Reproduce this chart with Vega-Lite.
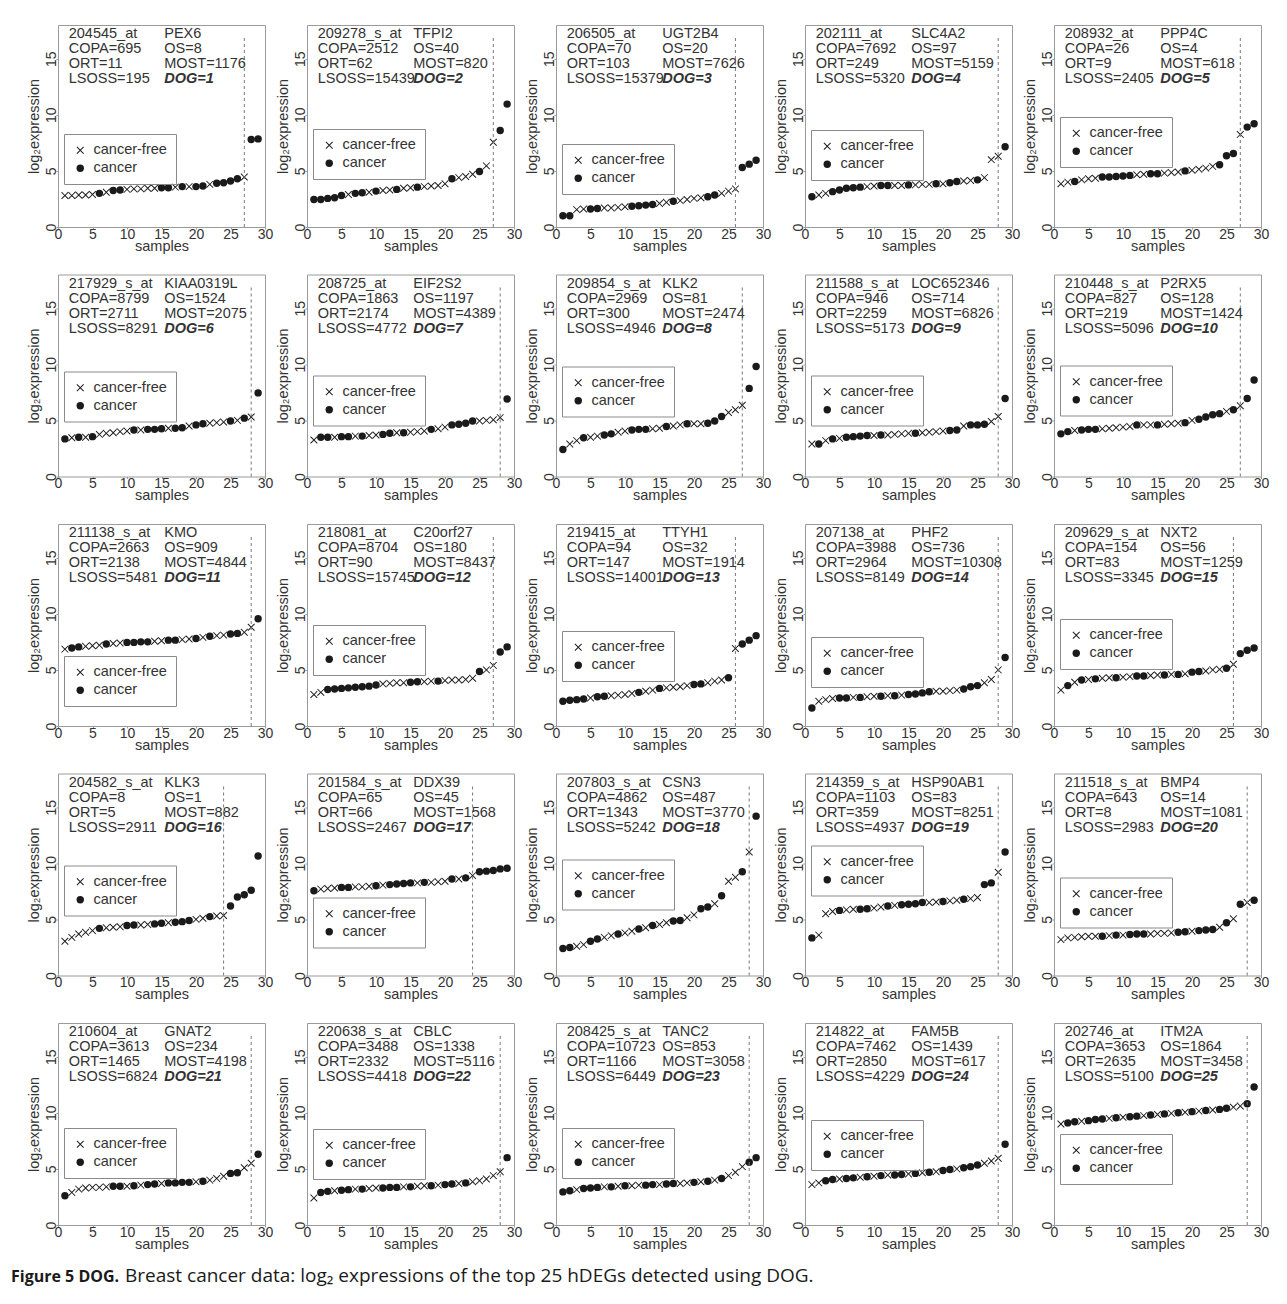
{
"$schema": "https://vega.github.io/schema/vega-lite/v6.json",
"background": "white",
"padding": {"left": 10, "top": 24, "right": 10, "bottom": 8},
"columns": 5,
"spacing": {"row": 47.5, "column": 42},
"bounds": "flush",
"resolve": {"legend": {"shape": "independent"}},
"datasets": {
"info": [
{"g":1,"cut":27,"left":["204545_at","COPA=695","ORT=11","LSOSS=195"],"right":["PEX6","OS=8","MOST=1176"],"dog":"DOG=1"},
{"g":2,"cut":27,"left":["209278_s_at","COPA=2512","ORT=62","LSOSS=15439"],"right":["TFPI2","OS=40","MOST=820"],"dog":"DOG=2"},
{"g":3,"cut":26,"left":["206505_at","COPA=70","ORT=103","LSOSS=15379"],"right":["UGT2B4","OS=20","MOST=7626"],"dog":"DOG=3"},
{"g":4,"cut":28,"left":["202111_at","COPA=7692","ORT=249","LSOSS=5320"],"right":["SLC4A2","OS=97","MOST=5159"],"dog":"DOG=4"},
{"g":5,"cut":27,"left":["208932_at","COPA=26","ORT=9","LSOSS=2405"],"right":["PPP4C","OS=4","MOST=618"],"dog":"DOG=5"},
{"g":6,"cut":28,"left":["217929_s_at","COPA=8799","ORT=2711","LSOSS=8291"],"right":["KIAA0319L","OS=1524","MOST=2075"],"dog":"DOG=6"},
{"g":7,"cut":28,"left":["208725_at","COPA=1863","ORT=2174","LSOSS=4772"],"right":["EIF2S2","OS=1197","MOST=4389"],"dog":"DOG=7"},
{"g":8,"cut":27,"left":["209854_s_at","COPA=2969","ORT=300","LSOSS=4946"],"right":["KLK2","OS=81","MOST=2474"],"dog":"DOG=8"},
{"g":9,"cut":28,"left":["211588_s_at","COPA=946","ORT=2259","LSOSS=5173"],"right":["LOC652346","OS=714","MOST=6826"],"dog":"DOG=9"},
{"g":10,"cut":27,"left":["210448_s_at","COPA=827","ORT=219","LSOSS=5096"],"right":["P2RX5","OS=128","MOST=1424"],"dog":"DOG=10"},
{"g":11,"cut":28,"left":["211138_s_at","COPA=2663","ORT=2138","LSOSS=5481"],"right":["KMO","OS=909","MOST=4844"],"dog":"DOG=11"},
{"g":12,"cut":27,"left":["218081_at","COPA=8704","ORT=90","LSOSS=15745"],"right":["C20orf27","OS=180","MOST=8437"],"dog":"DOG=12"},
{"g":13,"cut":26,"left":["219415_at","COPA=94","ORT=147","LSOSS=14001"],"right":["TTYH1","OS=32","MOST=1914"],"dog":"DOG=13"},
{"g":14,"cut":28,"left":["207138_at","COPA=3988","ORT=2964","LSOSS=8149"],"right":["PHF2","OS=736","MOST=10308"],"dog":"DOG=14"},
{"g":15,"cut":26,"left":["209629_s_at","COPA=154","ORT=83","LSOSS=3345"],"right":["NXT2","OS=56","MOST=1259"],"dog":"DOG=15"},
{"g":16,"cut":24,"left":["204582_s_at","COPA=8","ORT=5","LSOSS=2911"],"right":["KLK3","OS=1","MOST=882"],"dog":"DOG=16"},
{"g":17,"cut":24,"left":["201584_s_at","COPA=65","ORT=66","LSOSS=2467"],"right":["DDX39","OS=45","MOST=1568"],"dog":"DOG=17"},
{"g":18,"cut":28,"left":["207803_s_at","COPA=4862","ORT=1343","LSOSS=5242"],"right":["CSN3","OS=487","MOST=3770"],"dog":"DOG=18"},
{"g":19,"cut":28,"left":["214359_s_at","COPA=1103","ORT=359","LSOSS=4937"],"right":["HSP90AB1","OS=83","MOST=8251"],"dog":"DOG=19"},
{"g":20,"cut":28,"left":["211518_s_at","COPA=643","ORT=8","LSOSS=2983"],"right":["BMP4","OS=14","MOST=1081"],"dog":"DOG=20"},
{"g":21,"cut":28,"left":["210604_at","COPA=3613","ORT=1465","LSOSS=6824"],"right":["GNAT2","OS=234","MOST=4198"],"dog":"DOG=21"},
{"g":22,"cut":28,"left":["220638_s_at","COPA=3488","ORT=2332","LSOSS=4418"],"right":["CBLC","OS=1338","MOST=5116"],"dog":"DOG=22"},
{"g":23,"cut":28,"left":["208425_s_at","COPA=10723","ORT=1166","LSOSS=6449"],"right":["TANC2","OS=853","MOST=3058"],"dog":"DOG=23"},
{"g":24,"cut":28,"left":["214822_at","COPA=7462","ORT=2850","LSOSS=4229"],"right":["FAM5B","OS=1439","MOST=617"],"dog":"DOG=24"},
{"g":25,"cut":28,"left":["202746_at","COPA=3653","ORT=2635","LSOSS=5100"],"right":["ITM2A","OS=1864","MOST=3458"],"dog":"DOG=25"}
],
"pts": [
{"g":1,"i":1,"v":2.8,"s":"cancer-free"},{"g":1,"i":2,"v":2.8,"s":"cancer-free"},{"g":1,"i":3,"v":2.85,"s":"cancer-free"},{"g":1,"i":4,"v":2.85,"s":"cancer-free"},{"g":1,"i":5,"v":2.9,"s":"cancer-free"},{"g":1,"i":6,"v":3.0,"s":"cancer"},{"g":1,"i":7,"v":3.1,"s":"cancer-free"},{"g":1,"i":8,"v":3.25,"s":"cancer"},{"g":1,"i":9,"v":3.3,"s":"cancer"},{"g":1,"i":10,"v":3.35,"s":"cancer-free"},{"g":1,"i":11,"v":3.4,"s":"cancer-free"},{"g":1,"i":12,"v":3.4,"s":"cancer-free"},{"g":1,"i":13,"v":3.45,"s":"cancer-free"},{"g":1,"i":14,"v":3.45,"s":"cancer-free"},{"g":1,"i":15,"v":3.5,"s":"cancer"},{"g":1,"i":16,"v":3.5,"s":"cancer"},{"g":1,"i":17,"v":3.55,"s":"cancer-free"},{"g":1,"i":18,"v":3.6,"s":"cancer"},{"g":1,"i":19,"v":3.6,"s":"cancer-free"},{"g":1,"i":20,"v":3.6,"s":"cancer"},{"g":1,"i":21,"v":3.65,"s":"cancer"},{"g":1,"i":22,"v":3.8,"s":"cancer-free"},{"g":1,"i":23,"v":3.9,"s":"cancer"},{"g":1,"i":24,"v":3.95,"s":"cancer"},{"g":1,"i":25,"v":4.1,"s":"cancer"},{"g":1,"i":26,"v":4.3,"s":"cancer"},{"g":1,"i":27,"v":4.45,"s":"cancer-free"},{"g":1,"i":28,"v":7.8,"s":"cancer"},{"g":1,"i":29,"v":7.85,"s":"cancer"},
{"g":2,"i":1,"v":2.45,"s":"cancer"},{"g":2,"i":2,"v":2.45,"s":"cancer"},{"g":2,"i":3,"v":2.55,"s":"cancer"},{"g":2,"i":4,"v":2.6,"s":"cancer"},{"g":2,"i":5,"v":2.8,"s":"cancer"},{"g":2,"i":6,"v":2.9,"s":"cancer-free"},{"g":2,"i":7,"v":3.0,"s":"cancer"},{"g":2,"i":8,"v":3.05,"s":"cancer"},{"g":2,"i":9,"v":3.1,"s":"cancer-free"},{"g":2,"i":10,"v":3.2,"s":"cancer"},{"g":2,"i":11,"v":3.25,"s":"cancer-free"},{"g":2,"i":12,"v":3.3,"s":"cancer-free"},{"g":2,"i":13,"v":3.35,"s":"cancer"},{"g":2,"i":14,"v":3.45,"s":"cancer-free"},{"g":2,"i":15,"v":3.5,"s":"cancer-free"},{"g":2,"i":16,"v":3.55,"s":"cancer"},{"g":2,"i":17,"v":3.6,"s":"cancer-free"},{"g":2,"i":18,"v":3.65,"s":"cancer-free"},{"g":2,"i":19,"v":3.7,"s":"cancer-free"},{"g":2,"i":20,"v":3.85,"s":"cancer-free"},{"g":2,"i":21,"v":4.3,"s":"cancer"},{"g":2,"i":22,"v":4.4,"s":"cancer-free"},{"g":2,"i":23,"v":4.5,"s":"cancer-free"},{"g":2,"i":24,"v":4.7,"s":"cancer-free"},{"g":2,"i":25,"v":4.95,"s":"cancer"},{"g":2,"i":26,"v":5.45,"s":"cancer-free"},{"g":2,"i":27,"v":7.55,"s":"cancer-free"},{"g":2,"i":28,"v":8.6,"s":"cancer"},{"g":2,"i":29,"v":10.95,"s":"cancer"},
{"g":3,"i":1,"v":1.0,"s":"cancer"},{"g":3,"i":2,"v":1.0,"s":"cancer"},{"g":3,"i":3,"v":1.55,"s":"cancer-free"},{"g":3,"i":4,"v":1.6,"s":"cancer-free"},{"g":3,"i":5,"v":1.6,"s":"cancer"},{"g":3,"i":6,"v":1.65,"s":"cancer"},{"g":3,"i":7,"v":1.7,"s":"cancer-free"},{"g":3,"i":8,"v":1.7,"s":"cancer-free"},{"g":3,"i":9,"v":1.75,"s":"cancer-free"},{"g":3,"i":10,"v":1.8,"s":"cancer-free"},{"g":3,"i":11,"v":1.85,"s":"cancer"},{"g":3,"i":12,"v":1.9,"s":"cancer"},{"g":3,"i":13,"v":1.95,"s":"cancer"},{"g":3,"i":14,"v":2.0,"s":"cancer"},{"g":3,"i":15,"v":2.1,"s":"cancer-free"},{"g":3,"i":16,"v":2.2,"s":"cancer-free"},{"g":3,"i":17,"v":2.3,"s":"cancer"},{"g":3,"i":18,"v":2.35,"s":"cancer-free"},{"g":3,"i":19,"v":2.45,"s":"cancer-free"},{"g":3,"i":20,"v":2.55,"s":"cancer-free"},{"g":3,"i":21,"v":2.6,"s":"cancer-free"},{"g":3,"i":22,"v":2.7,"s":"cancer"},{"g":3,"i":23,"v":2.85,"s":"cancer"},{"g":3,"i":24,"v":3.0,"s":"cancer-free"},{"g":3,"i":25,"v":3.2,"s":"cancer-free"},{"g":3,"i":26,"v":3.4,"s":"cancer-free"},{"g":3,"i":27,"v":5.3,"s":"cancer"},{"g":3,"i":28,"v":5.6,"s":"cancer"},{"g":3,"i":29,"v":5.95,"s":"cancer"},
{"g":4,"i":1,"v":2.7,"s":"cancer"},{"g":4,"i":2,"v":2.85,"s":"cancer-free"},{"g":4,"i":3,"v":3.0,"s":"cancer-free"},{"g":4,"i":4,"v":3.15,"s":"cancer"},{"g":4,"i":5,"v":3.3,"s":"cancer"},{"g":4,"i":6,"v":3.45,"s":"cancer"},{"g":4,"i":7,"v":3.5,"s":"cancer"},{"g":4,"i":8,"v":3.55,"s":"cancer"},{"g":4,"i":9,"v":3.6,"s":"cancer-free"},{"g":4,"i":10,"v":3.65,"s":"cancer-free"},{"g":4,"i":11,"v":3.7,"s":"cancer"},{"g":4,"i":12,"v":3.7,"s":"cancer"},{"g":4,"i":13,"v":3.7,"s":"cancer-free"},{"g":4,"i":14,"v":3.7,"s":"cancer-free"},{"g":4,"i":15,"v":3.75,"s":"cancer"},{"g":4,"i":16,"v":3.75,"s":"cancer-free"},{"g":4,"i":17,"v":3.8,"s":"cancer-free"},{"g":4,"i":18,"v":3.8,"s":"cancer-free"},{"g":4,"i":19,"v":3.85,"s":"cancer"},{"g":4,"i":20,"v":3.85,"s":"cancer-free"},{"g":4,"i":21,"v":3.95,"s":"cancer"},{"g":4,"i":22,"v":4.05,"s":"cancer"},{"g":4,"i":23,"v":4.1,"s":"cancer-free"},{"g":4,"i":24,"v":4.15,"s":"cancer-free"},{"g":4,"i":25,"v":4.2,"s":"cancer"},{"g":4,"i":26,"v":4.4,"s":"cancer-free"},{"g":4,"i":27,"v":6.0,"s":"cancer-free"},{"g":4,"i":28,"v":6.3,"s":"cancer-free"},{"g":4,"i":29,"v":7.15,"s":"cancer"},
{"g":5,"i":1,"v":3.85,"s":"cancer-free"},{"g":5,"i":2,"v":4.0,"s":"cancer-free"},{"g":5,"i":3,"v":4.05,"s":"cancer"},{"g":5,"i":4,"v":4.2,"s":"cancer-free"},{"g":5,"i":5,"v":4.3,"s":"cancer-free"},{"g":5,"i":6,"v":4.35,"s":"cancer-free"},{"g":5,"i":7,"v":4.45,"s":"cancer"},{"g":5,"i":8,"v":4.45,"s":"cancer"},{"g":5,"i":9,"v":4.5,"s":"cancer"},{"g":5,"i":10,"v":4.55,"s":"cancer"},{"g":5,"i":11,"v":4.6,"s":"cancer"},{"g":5,"i":12,"v":4.65,"s":"cancer-free"},{"g":5,"i":13,"v":4.7,"s":"cancer-free"},{"g":5,"i":14,"v":4.75,"s":"cancer"},{"g":5,"i":15,"v":4.75,"s":"cancer"},{"g":5,"i":16,"v":4.8,"s":"cancer-free"},{"g":5,"i":17,"v":4.85,"s":"cancer-free"},{"g":5,"i":18,"v":4.9,"s":"cancer-free"},{"g":5,"i":19,"v":5.0,"s":"cancer"},{"g":5,"i":20,"v":5.05,"s":"cancer-free"},{"g":5,"i":21,"v":5.15,"s":"cancer-free"},{"g":5,"i":22,"v":5.25,"s":"cancer-free"},{"g":5,"i":23,"v":5.4,"s":"cancer-free"},{"g":5,"i":24,"v":5.55,"s":"cancer"},{"g":5,"i":25,"v":6.35,"s":"cancer"},{"g":5,"i":26,"v":6.55,"s":"cancer"},{"g":5,"i":27,"v":8.25,"s":"cancer-free"},{"g":5,"i":28,"v":8.9,"s":"cancer"},{"g":5,"i":29,"v":9.2,"s":"cancer"},
{"g":6,"i":1,"v":3.35,"s":"cancer"},{"g":6,"i":2,"v":3.45,"s":"cancer-free"},{"g":6,"i":3,"v":3.5,"s":"cancer"},{"g":6,"i":4,"v":3.5,"s":"cancer-free"},{"g":6,"i":5,"v":3.55,"s":"cancer"},{"g":6,"i":6,"v":3.75,"s":"cancer-free"},{"g":6,"i":7,"v":3.85,"s":"cancer-free"},{"g":6,"i":8,"v":3.9,"s":"cancer-free"},{"g":6,"i":9,"v":4.0,"s":"cancer-free"},{"g":6,"i":10,"v":4.05,"s":"cancer-free"},{"g":6,"i":11,"v":4.15,"s":"cancer"},{"g":6,"i":12,"v":4.15,"s":"cancer-free"},{"g":6,"i":13,"v":4.2,"s":"cancer"},{"g":6,"i":14,"v":4.2,"s":"cancer"},{"g":6,"i":15,"v":4.25,"s":"cancer"},{"g":6,"i":16,"v":4.3,"s":"cancer-free"},{"g":6,"i":17,"v":4.3,"s":"cancer"},{"g":6,"i":18,"v":4.35,"s":"cancer"},{"g":6,"i":19,"v":4.5,"s":"cancer-free"},{"g":6,"i":20,"v":4.6,"s":"cancer"},{"g":6,"i":21,"v":4.7,"s":"cancer"},{"g":6,"i":22,"v":4.75,"s":"cancer-free"},{"g":6,"i":23,"v":4.8,"s":"cancer-free"},{"g":6,"i":24,"v":4.85,"s":"cancer-free"},{"g":6,"i":25,"v":4.95,"s":"cancer"},{"g":6,"i":26,"v":5.0,"s":"cancer-free"},{"g":6,"i":27,"v":5.2,"s":"cancer"},{"g":6,"i":28,"v":5.3,"s":"cancer-free"},{"g":6,"i":29,"v":7.45,"s":"cancer"},
{"g":7,"i":1,"v":3.25,"s":"cancer-free"},{"g":7,"i":2,"v":3.5,"s":"cancer"},{"g":7,"i":3,"v":3.5,"s":"cancer"},{"g":7,"i":4,"v":3.5,"s":"cancer-free"},{"g":7,"i":5,"v":3.55,"s":"cancer"},{"g":7,"i":6,"v":3.55,"s":"cancer"},{"g":7,"i":7,"v":3.6,"s":"cancer-free"},{"g":7,"i":8,"v":3.6,"s":"cancer"},{"g":7,"i":9,"v":3.65,"s":"cancer-free"},{"g":7,"i":10,"v":3.7,"s":"cancer-free"},{"g":7,"i":11,"v":3.75,"s":"cancer"},{"g":7,"i":12,"v":3.85,"s":"cancer"},{"g":7,"i":13,"v":3.9,"s":"cancer-free"},{"g":7,"i":14,"v":3.9,"s":"cancer"},{"g":7,"i":15,"v":3.95,"s":"cancer-free"},{"g":7,"i":16,"v":4.0,"s":"cancer-free"},{"g":7,"i":17,"v":4.05,"s":"cancer-free"},{"g":7,"i":18,"v":4.2,"s":"cancer"},{"g":7,"i":19,"v":4.25,"s":"cancer-free"},{"g":7,"i":20,"v":4.4,"s":"cancer-free"},{"g":7,"i":21,"v":4.6,"s":"cancer"},{"g":7,"i":22,"v":4.65,"s":"cancer"},{"g":7,"i":23,"v":4.75,"s":"cancer"},{"g":7,"i":24,"v":4.95,"s":"cancer"},{"g":7,"i":25,"v":4.95,"s":"cancer-free"},{"g":7,"i":26,"v":5.0,"s":"cancer-free"},{"g":7,"i":27,"v":5.05,"s":"cancer-free"},{"g":7,"i":28,"v":5.25,"s":"cancer-free"},{"g":7,"i":29,"v":6.9,"s":"cancer"},
{"g":8,"i":1,"v":2.4,"s":"cancer"},{"g":8,"i":2,"v":2.9,"s":"cancer-free"},{"g":8,"i":3,"v":3.2,"s":"cancer-free"},{"g":8,"i":4,"v":3.45,"s":"cancer"},{"g":8,"i":5,"v":3.5,"s":"cancer-free"},{"g":8,"i":6,"v":3.6,"s":"cancer-free"},{"g":8,"i":7,"v":3.7,"s":"cancer"},{"g":8,"i":8,"v":3.8,"s":"cancer"},{"g":8,"i":9,"v":3.95,"s":"cancer-free"},{"g":8,"i":10,"v":4.05,"s":"cancer-free"},{"g":8,"i":11,"v":4.15,"s":"cancer"},{"g":8,"i":12,"v":4.2,"s":"cancer"},{"g":8,"i":13,"v":4.2,"s":"cancer"},{"g":8,"i":14,"v":4.25,"s":"cancer-free"},{"g":8,"i":15,"v":4.3,"s":"cancer-free"},{"g":8,"i":16,"v":4.45,"s":"cancer"},{"g":8,"i":17,"v":4.5,"s":"cancer-free"},{"g":8,"i":18,"v":4.6,"s":"cancer-free"},{"g":8,"i":19,"v":4.7,"s":"cancer"},{"g":8,"i":20,"v":4.7,"s":"cancer-free"},{"g":8,"i":21,"v":4.7,"s":"cancer-free"},{"g":8,"i":22,"v":4.75,"s":"cancer"},{"g":8,"i":23,"v":4.95,"s":"cancer"},{"g":8,"i":24,"v":5.35,"s":"cancer"},{"g":8,"i":25,"v":5.7,"s":"cancer-free"},{"g":8,"i":26,"v":5.95,"s":"cancer-free"},{"g":8,"i":27,"v":6.35,"s":"cancer-free"},{"g":8,"i":28,"v":7.85,"s":"cancer"},{"g":8,"i":29,"v":9.8,"s":"cancer"},
{"g":9,"i":1,"v":2.9,"s":"cancer-free"},{"g":9,"i":2,"v":2.9,"s":"cancer"},{"g":9,"i":3,"v":3.2,"s":"cancer-free"},{"g":9,"i":4,"v":3.35,"s":"cancer"},{"g":9,"i":5,"v":3.4,"s":"cancer-free"},{"g":9,"i":6,"v":3.5,"s":"cancer"},{"g":9,"i":7,"v":3.55,"s":"cancer"},{"g":9,"i":8,"v":3.6,"s":"cancer"},{"g":9,"i":9,"v":3.65,"s":"cancer"},{"g":9,"i":10,"v":3.65,"s":"cancer-free"},{"g":9,"i":11,"v":3.7,"s":"cancer"},{"g":9,"i":12,"v":3.7,"s":"cancer-free"},{"g":9,"i":13,"v":3.75,"s":"cancer-free"},{"g":9,"i":14,"v":3.8,"s":"cancer-free"},{"g":9,"i":15,"v":3.85,"s":"cancer-free"},{"g":9,"i":16,"v":3.85,"s":"cancer"},{"g":9,"i":17,"v":3.9,"s":"cancer-free"},{"g":9,"i":18,"v":3.95,"s":"cancer-free"},{"g":9,"i":19,"v":4.0,"s":"cancer-free"},{"g":9,"i":20,"v":4.05,"s":"cancer-free"},{"g":9,"i":21,"v":4.1,"s":"cancer"},{"g":9,"i":22,"v":4.15,"s":"cancer"},{"g":9,"i":23,"v":4.5,"s":"cancer-free"},{"g":9,"i":24,"v":4.6,"s":"cancer"},{"g":9,"i":25,"v":4.6,"s":"cancer"},{"g":9,"i":26,"v":4.65,"s":"cancer"},{"g":9,"i":27,"v":4.9,"s":"cancer-free"},{"g":9,"i":28,"v":5.35,"s":"cancer-free"},{"g":9,"i":29,"v":6.95,"s":"cancer"},
{"g":10,"i":1,"v":3.8,"s":"cancer"},{"g":10,"i":2,"v":4.0,"s":"cancer"},{"g":10,"i":3,"v":4.1,"s":"cancer-free"},{"g":10,"i":4,"v":4.15,"s":"cancer"},{"g":10,"i":5,"v":4.2,"s":"cancer"},{"g":10,"i":6,"v":4.2,"s":"cancer"},{"g":10,"i":7,"v":4.25,"s":"cancer-free"},{"g":10,"i":8,"v":4.3,"s":"cancer-free"},{"g":10,"i":9,"v":4.35,"s":"cancer-free"},{"g":10,"i":10,"v":4.4,"s":"cancer-free"},{"g":10,"i":11,"v":4.45,"s":"cancer-free"},{"g":10,"i":12,"v":4.6,"s":"cancer"},{"g":10,"i":13,"v":4.6,"s":"cancer-free"},{"g":10,"i":14,"v":4.6,"s":"cancer-free"},{"g":10,"i":15,"v":4.6,"s":"cancer"},{"g":10,"i":16,"v":4.65,"s":"cancer-free"},{"g":10,"i":17,"v":4.7,"s":"cancer-free"},{"g":10,"i":18,"v":4.75,"s":"cancer-free"},{"g":10,"i":19,"v":4.8,"s":"cancer"},{"g":10,"i":20,"v":5.0,"s":"cancer-free"},{"g":10,"i":21,"v":5.1,"s":"cancer"},{"g":10,"i":22,"v":5.3,"s":"cancer"},{"g":10,"i":23,"v":5.5,"s":"cancer"},{"g":10,"i":24,"v":5.6,"s":"cancer"},{"g":10,"i":25,"v":5.8,"s":"cancer-free"},{"g":10,"i":26,"v":5.95,"s":"cancer"},{"g":10,"i":27,"v":6.3,"s":"cancer-free"},{"g":10,"i":28,"v":6.95,"s":"cancer"},{"g":10,"i":29,"v":8.6,"s":"cancer"},
{"g":11,"i":1,"v":6.85,"s":"cancer-free"},{"g":11,"i":2,"v":6.95,"s":"cancer"},{"g":11,"i":3,"v":7.05,"s":"cancer"},{"g":11,"i":4,"v":7.1,"s":"cancer-free"},{"g":11,"i":5,"v":7.15,"s":"cancer-free"},{"g":11,"i":6,"v":7.2,"s":"cancer-free"},{"g":11,"i":7,"v":7.3,"s":"cancer"},{"g":11,"i":8,"v":7.35,"s":"cancer-free"},{"g":11,"i":9,"v":7.4,"s":"cancer-free"},{"g":11,"i":10,"v":7.45,"s":"cancer"},{"g":11,"i":11,"v":7.45,"s":"cancer"},{"g":11,"i":12,"v":7.5,"s":"cancer"},{"g":11,"i":13,"v":7.5,"s":"cancer"},{"g":11,"i":14,"v":7.55,"s":"cancer-free"},{"g":11,"i":15,"v":7.6,"s":"cancer-free"},{"g":11,"i":16,"v":7.65,"s":"cancer"},{"g":11,"i":17,"v":7.65,"s":"cancer"},{"g":11,"i":18,"v":7.7,"s":"cancer-free"},{"g":11,"i":19,"v":7.75,"s":"cancer-free"},{"g":11,"i":20,"v":7.8,"s":"cancer"},{"g":11,"i":21,"v":7.9,"s":"cancer-free"},{"g":11,"i":22,"v":8.0,"s":"cancer"},{"g":11,"i":23,"v":8.05,"s":"cancer-free"},{"g":11,"i":24,"v":8.1,"s":"cancer-free"},{"g":11,"i":25,"v":8.2,"s":"cancer"},{"g":11,"i":26,"v":8.25,"s":"cancer"},{"g":11,"i":27,"v":8.35,"s":"cancer-free"},{"g":11,"i":28,"v":8.8,"s":"cancer-free"},{"g":11,"i":29,"v":9.55,"s":"cancer"},
{"g":12,"i":1,"v":2.8,"s":"cancer-free"},{"g":12,"i":2,"v":3.0,"s":"cancer-free"},{"g":12,"i":3,"v":3.25,"s":"cancer"},{"g":12,"i":4,"v":3.3,"s":"cancer"},{"g":12,"i":5,"v":3.35,"s":"cancer"},{"g":12,"i":6,"v":3.4,"s":"cancer"},{"g":12,"i":7,"v":3.45,"s":"cancer"},{"g":12,"i":8,"v":3.5,"s":"cancer"},{"g":12,"i":9,"v":3.55,"s":"cancer"},{"g":12,"i":10,"v":3.65,"s":"cancer"},{"g":12,"i":11,"v":3.75,"s":"cancer-free"},{"g":12,"i":12,"v":3.8,"s":"cancer-free"},{"g":12,"i":13,"v":3.85,"s":"cancer-free"},{"g":12,"i":14,"v":3.85,"s":"cancer-free"},{"g":12,"i":15,"v":3.9,"s":"cancer"},{"g":12,"i":16,"v":3.95,"s":"cancer"},{"g":12,"i":17,"v":3.95,"s":"cancer-free"},{"g":12,"i":18,"v":4.0,"s":"cancer-free"},{"g":12,"i":19,"v":4.0,"s":"cancer"},{"g":12,"i":20,"v":4.05,"s":"cancer-free"},{"g":12,"i":21,"v":4.1,"s":"cancer-free"},{"g":12,"i":22,"v":4.1,"s":"cancer-free"},{"g":12,"i":23,"v":4.15,"s":"cancer-free"},{"g":12,"i":24,"v":4.25,"s":"cancer-free"},{"g":12,"i":25,"v":4.85,"s":"cancer"},{"g":12,"i":26,"v":5.0,"s":"cancer-free"},{"g":12,"i":27,"v":5.4,"s":"cancer-free"},{"g":12,"i":28,"v":6.6,"s":"cancer"},{"g":12,"i":29,"v":7.05,"s":"cancer"},
{"g":13,"i":1,"v":2.2,"s":"cancer"},{"g":13,"i":2,"v":2.3,"s":"cancer"},{"g":13,"i":3,"v":2.35,"s":"cancer"},{"g":13,"i":4,"v":2.4,"s":"cancer"},{"g":13,"i":5,"v":2.5,"s":"cancer-free"},{"g":13,"i":6,"v":2.6,"s":"cancer"},{"g":13,"i":7,"v":2.65,"s":"cancer"},{"g":13,"i":8,"v":2.7,"s":"cancer-free"},{"g":13,"i":9,"v":2.75,"s":"cancer-free"},{"g":13,"i":10,"v":2.8,"s":"cancer-free"},{"g":13,"i":11,"v":2.9,"s":"cancer-free"},{"g":13,"i":12,"v":3.0,"s":"cancer"},{"g":13,"i":13,"v":3.1,"s":"cancer-free"},{"g":13,"i":14,"v":3.2,"s":"cancer-free"},{"g":13,"i":15,"v":3.35,"s":"cancer"},{"g":13,"i":16,"v":3.4,"s":"cancer-free"},{"g":13,"i":17,"v":3.45,"s":"cancer-free"},{"g":13,"i":18,"v":3.5,"s":"cancer-free"},{"g":13,"i":19,"v":3.6,"s":"cancer-free"},{"g":13,"i":20,"v":3.7,"s":"cancer"},{"g":13,"i":21,"v":3.75,"s":"cancer"},{"g":13,"i":22,"v":3.85,"s":"cancer-free"},{"g":13,"i":23,"v":4.0,"s":"cancer-free"},{"g":13,"i":24,"v":4.1,"s":"cancer-free"},{"g":13,"i":25,"v":4.3,"s":"cancer"},{"g":13,"i":26,"v":6.9,"s":"cancer-free"},{"g":13,"i":27,"v":7.3,"s":"cancer"},{"g":13,"i":28,"v":7.65,"s":"cancer"},{"g":13,"i":29,"v":8.05,"s":"cancer"},
{"g":14,"i":1,"v":1.6,"s":"cancer"},{"g":14,"i":2,"v":2.2,"s":"cancer-free"},{"g":14,"i":3,"v":2.35,"s":"cancer-free"},{"g":14,"i":4,"v":2.45,"s":"cancer-free"},{"g":14,"i":5,"v":2.5,"s":"cancer"},{"g":14,"i":6,"v":2.5,"s":"cancer"},{"g":14,"i":7,"v":2.55,"s":"cancer-free"},{"g":14,"i":8,"v":2.55,"s":"cancer"},{"g":14,"i":9,"v":2.6,"s":"cancer-free"},{"g":14,"i":10,"v":2.65,"s":"cancer-free"},{"g":14,"i":11,"v":2.65,"s":"cancer"},{"g":14,"i":12,"v":2.7,"s":"cancer-free"},{"g":14,"i":13,"v":2.7,"s":"cancer"},{"g":14,"i":14,"v":2.75,"s":"cancer-free"},{"g":14,"i":15,"v":2.8,"s":"cancer"},{"g":14,"i":16,"v":2.85,"s":"cancer"},{"g":14,"i":17,"v":2.95,"s":"cancer"},{"g":14,"i":18,"v":3.05,"s":"cancer"},{"g":14,"i":19,"v":3.1,"s":"cancer-free"},{"g":14,"i":20,"v":3.1,"s":"cancer-free"},{"g":14,"i":21,"v":3.15,"s":"cancer-free"},{"g":14,"i":22,"v":3.2,"s":"cancer-free"},{"g":14,"i":23,"v":3.3,"s":"cancer"},{"g":14,"i":24,"v":3.5,"s":"cancer"},{"g":14,"i":25,"v":3.6,"s":"cancer"},{"g":14,"i":26,"v":3.85,"s":"cancer-free"},{"g":14,"i":27,"v":4.15,"s":"cancer-free"},{"g":14,"i":28,"v":5.0,"s":"cancer-free"},{"g":14,"i":29,"v":6.1,"s":"cancer"},
{"g":15,"i":1,"v":3.2,"s":"cancer-free"},{"g":15,"i":2,"v":3.6,"s":"cancer"},{"g":15,"i":3,"v":3.9,"s":"cancer-free"},{"g":15,"i":4,"v":4.1,"s":"cancer"},{"g":15,"i":5,"v":4.15,"s":"cancer-free"},{"g":15,"i":6,"v":4.2,"s":"cancer"},{"g":15,"i":7,"v":4.25,"s":"cancer-free"},{"g":15,"i":8,"v":4.3,"s":"cancer-free"},{"g":15,"i":9,"v":4.3,"s":"cancer"},{"g":15,"i":10,"v":4.35,"s":"cancer-free"},{"g":15,"i":11,"v":4.4,"s":"cancer-free"},{"g":15,"i":12,"v":4.45,"s":"cancer"},{"g":15,"i":13,"v":4.45,"s":"cancer"},{"g":15,"i":14,"v":4.5,"s":"cancer-free"},{"g":15,"i":15,"v":4.55,"s":"cancer-free"},{"g":15,"i":16,"v":4.55,"s":"cancer"},{"g":15,"i":17,"v":4.6,"s":"cancer-free"},{"g":15,"i":18,"v":4.6,"s":"cancer"},{"g":15,"i":19,"v":4.65,"s":"cancer-free"},{"g":15,"i":20,"v":4.8,"s":"cancer"},{"g":15,"i":21,"v":4.85,"s":"cancer"},{"g":15,"i":22,"v":4.9,"s":"cancer-free"},{"g":15,"i":23,"v":5.0,"s":"cancer-free"},{"g":15,"i":24,"v":5.05,"s":"cancer-free"},{"g":15,"i":25,"v":5.15,"s":"cancer"},{"g":15,"i":26,"v":5.5,"s":"cancer-free"},{"g":15,"i":27,"v":6.45,"s":"cancer"},{"g":15,"i":28,"v":6.75,"s":"cancer"},{"g":15,"i":29,"v":6.95,"s":"cancer"},
{"g":16,"i":1,"v":3.05,"s":"cancer-free"},{"g":16,"i":2,"v":3.4,"s":"cancer-free"},{"g":16,"i":3,"v":3.7,"s":"cancer-free"},{"g":16,"i":4,"v":3.85,"s":"cancer-free"},{"g":16,"i":5,"v":4.0,"s":"cancer-free"},{"g":16,"i":6,"v":4.2,"s":"cancer"},{"g":16,"i":7,"v":4.25,"s":"cancer-free"},{"g":16,"i":8,"v":4.3,"s":"cancer-free"},{"g":16,"i":9,"v":4.35,"s":"cancer-free"},{"g":16,"i":10,"v":4.45,"s":"cancer"},{"g":16,"i":11,"v":4.5,"s":"cancer"},{"g":16,"i":12,"v":4.5,"s":"cancer-free"},{"g":16,"i":13,"v":4.55,"s":"cancer-free"},{"g":16,"i":14,"v":4.6,"s":"cancer"},{"g":16,"i":15,"v":4.65,"s":"cancer"},{"g":16,"i":16,"v":4.7,"s":"cancer-free"},{"g":16,"i":17,"v":4.75,"s":"cancer"},{"g":16,"i":18,"v":4.8,"s":"cancer"},{"g":16,"i":19,"v":4.9,"s":"cancer"},{"g":16,"i":20,"v":5.0,"s":"cancer-free"},{"g":16,"i":21,"v":5.1,"s":"cancer-free"},{"g":16,"i":22,"v":5.25,"s":"cancer"},{"g":16,"i":23,"v":5.3,"s":"cancer-free"},{"g":16,"i":24,"v":5.35,"s":"cancer-free"},{"g":16,"i":25,"v":6.2,"s":"cancer"},{"g":16,"i":26,"v":7.0,"s":"cancer"},{"g":16,"i":27,"v":7.2,"s":"cancer"},{"g":16,"i":28,"v":7.6,"s":"cancer"},{"g":16,"i":29,"v":10.65,"s":"cancer"},
{"g":17,"i":1,"v":7.55,"s":"cancer"},{"g":17,"i":2,"v":7.7,"s":"cancer-free"},{"g":17,"i":3,"v":7.75,"s":"cancer-free"},{"g":17,"i":4,"v":7.8,"s":"cancer-free"},{"g":17,"i":5,"v":7.85,"s":"cancer"},{"g":17,"i":6,"v":7.85,"s":"cancer"},{"g":17,"i":7,"v":7.9,"s":"cancer-free"},{"g":17,"i":8,"v":7.9,"s":"cancer-free"},{"g":17,"i":9,"v":7.95,"s":"cancer-free"},{"g":17,"i":10,"v":8.0,"s":"cancer"},{"g":17,"i":11,"v":8.05,"s":"cancer-free"},{"g":17,"i":12,"v":8.1,"s":"cancer"},{"g":17,"i":13,"v":8.15,"s":"cancer"},{"g":17,"i":14,"v":8.2,"s":"cancer"},{"g":17,"i":15,"v":8.25,"s":"cancer"},{"g":17,"i":16,"v":8.25,"s":"cancer-free"},{"g":17,"i":17,"v":8.3,"s":"cancer"},{"g":17,"i":18,"v":8.3,"s":"cancer-free"},{"g":17,"i":19,"v":8.35,"s":"cancer-free"},{"g":17,"i":20,"v":8.4,"s":"cancer-free"},{"g":17,"i":21,"v":8.6,"s":"cancer"},{"g":17,"i":22,"v":8.6,"s":"cancer-free"},{"g":17,"i":23,"v":8.7,"s":"cancer"},{"g":17,"i":24,"v":8.9,"s":"cancer-free"},{"g":17,"i":25,"v":9.25,"s":"cancer"},{"g":17,"i":26,"v":9.3,"s":"cancer"},{"g":17,"i":27,"v":9.35,"s":"cancer"},{"g":17,"i":28,"v":9.5,"s":"cancer"},{"g":17,"i":29,"v":9.55,"s":"cancer"},
{"g":18,"i":1,"v":2.4,"s":"cancer"},{"g":18,"i":2,"v":2.5,"s":"cancer"},{"g":18,"i":3,"v":2.6,"s":"cancer-free"},{"g":18,"i":4,"v":2.75,"s":"cancer-free"},{"g":18,"i":5,"v":3.05,"s":"cancer"},{"g":18,"i":6,"v":3.25,"s":"cancer"},{"g":18,"i":7,"v":3.4,"s":"cancer-free"},{"g":18,"i":8,"v":3.55,"s":"cancer-free"},{"g":18,"i":9,"v":3.7,"s":"cancer"},{"g":18,"i":10,"v":3.8,"s":"cancer-free"},{"g":18,"i":11,"v":3.95,"s":"cancer-free"},{"g":18,"i":12,"v":4.15,"s":"cancer"},{"g":18,"i":13,"v":4.25,"s":"cancer-free"},{"g":18,"i":14,"v":4.45,"s":"cancer"},{"g":18,"i":15,"v":4.55,"s":"cancer-free"},{"g":18,"i":16,"v":4.7,"s":"cancer-free"},{"g":18,"i":17,"v":4.85,"s":"cancer"},{"g":18,"i":18,"v":4.9,"s":"cancer"},{"g":18,"i":19,"v":5.15,"s":"cancer-free"},{"g":18,"i":20,"v":5.4,"s":"cancer-free"},{"g":18,"i":21,"v":5.95,"s":"cancer"},{"g":18,"i":22,"v":6.1,"s":"cancer"},{"g":18,"i":23,"v":6.4,"s":"cancer-free"},{"g":18,"i":24,"v":7.1,"s":"cancer"},{"g":18,"i":25,"v":8.4,"s":"cancer-free"},{"g":18,"i":26,"v":8.75,"s":"cancer-free"},{"g":18,"i":27,"v":9.25,"s":"cancer"},{"g":18,"i":28,"v":11.0,"s":"cancer-free"},{"g":18,"i":29,"v":14.2,"s":"cancer"},
{"g":19,"i":1,"v":3.35,"s":"cancer"},{"g":19,"i":2,"v":3.6,"s":"cancer-free"},{"g":19,"i":3,"v":5.5,"s":"cancer-free"},{"g":19,"i":4,"v":5.7,"s":"cancer-free"},{"g":19,"i":5,"v":5.8,"s":"cancer"},{"g":19,"i":6,"v":5.85,"s":"cancer-free"},{"g":19,"i":7,"v":5.9,"s":"cancer-free"},{"g":19,"i":8,"v":5.9,"s":"cancer"},{"g":19,"i":9,"v":5.95,"s":"cancer"},{"g":19,"i":10,"v":6.0,"s":"cancer-free"},{"g":19,"i":11,"v":6.1,"s":"cancer-free"},{"g":19,"i":12,"v":6.2,"s":"cancer"},{"g":19,"i":13,"v":6.25,"s":"cancer-free"},{"g":19,"i":14,"v":6.3,"s":"cancer"},{"g":19,"i":15,"v":6.35,"s":"cancer"},{"g":19,"i":16,"v":6.4,"s":"cancer"},{"g":19,"i":17,"v":6.5,"s":"cancer"},{"g":19,"i":18,"v":6.5,"s":"cancer-free"},{"g":19,"i":19,"v":6.55,"s":"cancer-free"},{"g":19,"i":20,"v":6.6,"s":"cancer"},{"g":19,"i":21,"v":6.65,"s":"cancer-free"},{"g":19,"i":22,"v":6.7,"s":"cancer-free"},{"g":19,"i":23,"v":6.8,"s":"cancer"},{"g":19,"i":24,"v":6.85,"s":"cancer-free"},{"g":19,"i":25,"v":6.95,"s":"cancer-free"},{"g":19,"i":26,"v":8.1,"s":"cancer"},{"g":19,"i":27,"v":8.25,"s":"cancer"},{"g":19,"i":28,"v":9.2,"s":"cancer-free"},{"g":19,"i":29,"v":11.0,"s":"cancer"},
{"g":20,"i":1,"v":3.2,"s":"cancer-free"},{"g":20,"i":2,"v":3.35,"s":"cancer-free"},{"g":20,"i":3,"v":3.4,"s":"cancer-free"},{"g":20,"i":4,"v":3.45,"s":"cancer-free"},{"g":20,"i":5,"v":3.5,"s":"cancer-free"},{"g":20,"i":6,"v":3.5,"s":"cancer-free"},{"g":20,"i":7,"v":3.5,"s":"cancer"},{"g":20,"i":8,"v":3.55,"s":"cancer-free"},{"g":20,"i":9,"v":3.6,"s":"cancer"},{"g":20,"i":10,"v":3.6,"s":"cancer-free"},{"g":20,"i":11,"v":3.65,"s":"cancer"},{"g":20,"i":12,"v":3.7,"s":"cancer"},{"g":20,"i":13,"v":3.7,"s":"cancer"},{"g":20,"i":14,"v":3.7,"s":"cancer-free"},{"g":20,"i":15,"v":3.75,"s":"cancer-free"},{"g":20,"i":16,"v":3.75,"s":"cancer-free"},{"g":20,"i":17,"v":3.8,"s":"cancer-free"},{"g":20,"i":18,"v":3.85,"s":"cancer"},{"g":20,"i":19,"v":3.9,"s":"cancer"},{"g":20,"i":20,"v":3.95,"s":"cancer-free"},{"g":20,"i":21,"v":4.0,"s":"cancer"},{"g":20,"i":22,"v":4.05,"s":"cancer"},{"g":20,"i":23,"v":4.1,"s":"cancer"},{"g":20,"i":24,"v":4.3,"s":"cancer-free"},{"g":20,"i":25,"v":4.7,"s":"cancer"},{"g":20,"i":26,"v":5.05,"s":"cancer-free"},{"g":20,"i":27,"v":6.35,"s":"cancer"},{"g":20,"i":28,"v":6.5,"s":"cancer-free"},{"g":20,"i":29,"v":6.7,"s":"cancer"},
{"g":21,"i":1,"v":2.6,"s":"cancer"},{"g":21,"i":2,"v":2.9,"s":"cancer-free"},{"g":21,"i":3,"v":3.2,"s":"cancer-free"},{"g":21,"i":4,"v":3.3,"s":"cancer-free"},{"g":21,"i":5,"v":3.35,"s":"cancer-free"},{"g":21,"i":6,"v":3.35,"s":"cancer-free"},{"g":21,"i":7,"v":3.4,"s":"cancer-free"},{"g":21,"i":8,"v":3.45,"s":"cancer"},{"g":21,"i":9,"v":3.45,"s":"cancer"},{"g":21,"i":10,"v":3.45,"s":"cancer-free"},{"g":21,"i":11,"v":3.5,"s":"cancer"},{"g":21,"i":12,"v":3.55,"s":"cancer-free"},{"g":21,"i":13,"v":3.6,"s":"cancer"},{"g":21,"i":14,"v":3.65,"s":"cancer"},{"g":21,"i":15,"v":3.7,"s":"cancer-free"},{"g":21,"i":16,"v":3.75,"s":"cancer"},{"g":21,"i":17,"v":3.75,"s":"cancer"},{"g":21,"i":18,"v":3.8,"s":"cancer"},{"g":21,"i":19,"v":3.8,"s":"cancer"},{"g":21,"i":20,"v":3.85,"s":"cancer-free"},{"g":21,"i":21,"v":3.9,"s":"cancer"},{"g":21,"i":22,"v":4.0,"s":"cancer-free"},{"g":21,"i":23,"v":4.15,"s":"cancer-free"},{"g":21,"i":24,"v":4.35,"s":"cancer-free"},{"g":21,"i":25,"v":4.6,"s":"cancer"},{"g":21,"i":26,"v":4.65,"s":"cancer"},{"g":21,"i":27,"v":5.1,"s":"cancer-free"},{"g":21,"i":28,"v":5.5,"s":"cancer-free"},{"g":21,"i":29,"v":6.3,"s":"cancer"},
{"g":22,"i":1,"v":2.4,"s":"cancer-free"},{"g":22,"i":2,"v":2.9,"s":"cancer"},{"g":22,"i":3,"v":3.0,"s":"cancer"},{"g":22,"i":4,"v":3.05,"s":"cancer-free"},{"g":22,"i":5,"v":3.1,"s":"cancer"},{"g":22,"i":6,"v":3.15,"s":"cancer"},{"g":22,"i":7,"v":3.2,"s":"cancer-free"},{"g":22,"i":8,"v":3.2,"s":"cancer"},{"g":22,"i":9,"v":3.25,"s":"cancer-free"},{"g":22,"i":10,"v":3.3,"s":"cancer-free"},{"g":22,"i":11,"v":3.3,"s":"cancer"},{"g":22,"i":12,"v":3.35,"s":"cancer"},{"g":22,"i":13,"v":3.35,"s":"cancer"},{"g":22,"i":14,"v":3.4,"s":"cancer-free"},{"g":22,"i":15,"v":3.4,"s":"cancer"},{"g":22,"i":16,"v":3.45,"s":"cancer-free"},{"g":22,"i":17,"v":3.5,"s":"cancer-free"},{"g":22,"i":18,"v":3.5,"s":"cancer"},{"g":22,"i":19,"v":3.55,"s":"cancer-free"},{"g":22,"i":20,"v":3.6,"s":"cancer"},{"g":22,"i":21,"v":3.65,"s":"cancer"},{"g":22,"i":22,"v":3.7,"s":"cancer-free"},{"g":22,"i":23,"v":3.75,"s":"cancer"},{"g":22,"i":24,"v":3.85,"s":"cancer-free"},{"g":22,"i":25,"v":3.95,"s":"cancer-free"},{"g":22,"i":26,"v":4.1,"s":"cancer-free"},{"g":22,"i":27,"v":4.4,"s":"cancer-free"},{"g":22,"i":28,"v":4.75,"s":"cancer-free"},{"g":22,"i":29,"v":6.0,"s":"cancer"},
{"g":23,"i":1,"v":2.95,"s":"cancer"},{"g":23,"i":2,"v":3.05,"s":"cancer"},{"g":23,"i":3,"v":3.15,"s":"cancer-free"},{"g":23,"i":4,"v":3.25,"s":"cancer"},{"g":23,"i":5,"v":3.3,"s":"cancer"},{"g":23,"i":6,"v":3.35,"s":"cancer"},{"g":23,"i":7,"v":3.4,"s":"cancer-free"},{"g":23,"i":8,"v":3.4,"s":"cancer"},{"g":23,"i":9,"v":3.45,"s":"cancer-free"},{"g":23,"i":10,"v":3.5,"s":"cancer"},{"g":23,"i":11,"v":3.5,"s":"cancer-free"},{"g":23,"i":12,"v":3.55,"s":"cancer-free"},{"g":23,"i":13,"v":3.55,"s":"cancer"},{"g":23,"i":14,"v":3.6,"s":"cancer"},{"g":23,"i":15,"v":3.6,"s":"cancer-free"},{"g":23,"i":16,"v":3.65,"s":"cancer"},{"g":23,"i":17,"v":3.7,"s":"cancer"},{"g":23,"i":18,"v":3.7,"s":"cancer-free"},{"g":23,"i":19,"v":3.75,"s":"cancer-free"},{"g":23,"i":20,"v":3.8,"s":"cancer"},{"g":23,"i":21,"v":3.85,"s":"cancer-free"},{"g":23,"i":22,"v":3.9,"s":"cancer"},{"g":23,"i":23,"v":4.0,"s":"cancer-free"},{"g":23,"i":24,"v":4.15,"s":"cancer"},{"g":23,"i":25,"v":4.4,"s":"cancer-free"},{"g":23,"i":26,"v":4.7,"s":"cancer-free"},{"g":23,"i":27,"v":5.2,"s":"cancer-free"},{"g":23,"i":28,"v":5.6,"s":"cancer"},{"g":23,"i":29,"v":6.0,"s":"cancer"},
{"g":24,"i":1,"v":3.6,"s":"cancer-free"},{"g":24,"i":2,"v":3.75,"s":"cancer-free"},{"g":24,"i":3,"v":3.95,"s":"cancer"},{"g":24,"i":4,"v":4.05,"s":"cancer"},{"g":24,"i":5,"v":4.1,"s":"cancer-free"},{"g":24,"i":6,"v":4.15,"s":"cancer"},{"g":24,"i":7,"v":4.2,"s":"cancer"},{"g":24,"i":8,"v":4.25,"s":"cancer-free"},{"g":24,"i":9,"v":4.3,"s":"cancer"},{"g":24,"i":10,"v":4.35,"s":"cancer-free"},{"g":24,"i":11,"v":4.4,"s":"cancer"},{"g":24,"i":12,"v":4.45,"s":"cancer-free"},{"g":24,"i":13,"v":4.45,"s":"cancer"},{"g":24,"i":14,"v":4.5,"s":"cancer"},{"g":24,"i":15,"v":4.55,"s":"cancer-free"},{"g":24,"i":16,"v":4.6,"s":"cancer"},{"g":24,"i":17,"v":4.65,"s":"cancer-free"},{"g":24,"i":18,"v":4.7,"s":"cancer"},{"g":24,"i":19,"v":4.75,"s":"cancer-free"},{"g":24,"i":20,"v":4.85,"s":"cancer"},{"g":24,"i":21,"v":4.95,"s":"cancer"},{"g":24,"i":22,"v":5.0,"s":"cancer-free"},{"g":24,"i":23,"v":5.1,"s":"cancer"},{"g":24,"i":24,"v":5.2,"s":"cancer"},{"g":24,"i":25,"v":5.35,"s":"cancer"},{"g":24,"i":26,"v":5.5,"s":"cancer-free"},{"g":24,"i":27,"v":5.7,"s":"cancer-free"},{"g":24,"i":28,"v":5.95,"s":"cancer-free"},{"g":24,"i":29,"v":7.2,"s":"cancer"},
{"g":25,"i":1,"v":9.0,"s":"cancer-free"},{"g":25,"i":2,"v":9.1,"s":"cancer"},{"g":25,"i":3,"v":9.2,"s":"cancer"},{"g":25,"i":4,"v":9.25,"s":"cancer-free"},{"g":25,"i":5,"v":9.3,"s":"cancer"},{"g":25,"i":6,"v":9.4,"s":"cancer"},{"g":25,"i":7,"v":9.45,"s":"cancer"},{"g":25,"i":8,"v":9.5,"s":"cancer-free"},{"g":25,"i":9,"v":9.55,"s":"cancer"},{"g":25,"i":10,"v":9.6,"s":"cancer-free"},{"g":25,"i":11,"v":9.65,"s":"cancer"},{"g":25,"i":12,"v":9.7,"s":"cancer"},{"g":25,"i":13,"v":9.75,"s":"cancer-free"},{"g":25,"i":14,"v":9.8,"s":"cancer"},{"g":25,"i":15,"v":9.85,"s":"cancer-free"},{"g":25,"i":16,"v":9.9,"s":"cancer"},{"g":25,"i":17,"v":9.95,"s":"cancer-free"},{"g":25,"i":18,"v":10.0,"s":"cancer"},{"g":25,"i":19,"v":10.05,"s":"cancer-free"},{"g":25,"i":20,"v":10.1,"s":"cancer"},{"g":25,"i":21,"v":10.15,"s":"cancer-free"},{"g":25,"i":22,"v":10.2,"s":"cancer"},{"g":25,"i":23,"v":10.25,"s":"cancer-free"},{"g":25,"i":24,"v":10.3,"s":"cancer"},{"g":25,"i":25,"v":10.4,"s":"cancer"},{"g":25,"i":26,"v":10.5,"s":"cancer-free"},{"g":25,"i":27,"v":10.6,"s":"cancer-free"},{"g":25,"i":28,"v":10.8,"s":"cancer"},{"g":25,"i":29,"v":12.3,"s":"cancer"}
]
},
"concat": [
{"width":207,"height":202,"data":{"name":"info"},"transform":[{"filter":"datum.g==1"}],"layer":[{"data":{"name":"pts"},"transform":[{"filter":"datum.g==1"}],"mark":"point","encoding":{"x":{"field":"i","type":"quantitative","title":"samples","scale":{"domain":[0,30],"nice":false}},"y":{"field":"v","type":"quantitative","title":"log₂expression","scale":{"domain":[0,18],"nice":false}},"shape":{"field":"s","type":"nominal","sort":"descending","legend":{"title":null,"legendX":6,"legendY":109}}}},{"mark":"rule","encoding":{"x":{"field":"cut","type":"quantitative","title":"samples"},"y":{"datum":0},"y2":{"datum":17.1}}},{"mark":"text","encoding":{"x":{"datum":1.55},"y":{"datum":17.8},"text":{"field":"left"}}},{"mark":"text","encoding":{"x":{"datum":15.4},"y":{"datum":17.8},"text":{"field":"right"}}},{"mark":{"type":"text","fontWeight":"bold","fontStyle":"italic"},"encoding":{"x":{"datum":15.4},"y":{"datum":13.8},"text":{"field":"dog"}}}]},
{"width":207,"height":202,"data":{"name":"info"},"transform":[{"filter":"datum.g==2"}],"layer":[{"data":{"name":"pts"},"transform":[{"filter":"datum.g==2"}],"mark":"point","encoding":{"x":{"field":"i","type":"quantitative","title":"samples","scale":{"domain":[0,30],"nice":false}},"y":{"field":"v","type":"quantitative","title":"log₂expression","scale":{"domain":[0,18],"nice":false}},"shape":{"field":"s","type":"nominal","sort":"descending","legend":{"title":null,"legendX":6,"legendY":104}}}},{"mark":"rule","encoding":{"x":{"field":"cut","type":"quantitative","title":"samples"},"y":{"datum":0},"y2":{"datum":17.1}}},{"mark":"text","encoding":{"x":{"datum":1.55},"y":{"datum":17.8},"text":{"field":"left"}}},{"mark":"text","encoding":{"x":{"datum":15.4},"y":{"datum":17.8},"text":{"field":"right"}}},{"mark":{"type":"text","fontWeight":"bold","fontStyle":"italic"},"encoding":{"x":{"datum":15.4},"y":{"datum":13.8},"text":{"field":"dog"}}}]},
{"width":207,"height":202,"data":{"name":"info"},"transform":[{"filter":"datum.g==3"}],"layer":[{"data":{"name":"pts"},"transform":[{"filter":"datum.g==3"}],"mark":"point","encoding":{"x":{"field":"i","type":"quantitative","title":"samples","scale":{"domain":[0,30],"nice":false}},"y":{"field":"v","type":"quantitative","title":"log₂expression","scale":{"domain":[0,18],"nice":false}},"shape":{"field":"s","type":"nominal","sort":"descending","legend":{"title":null,"legendX":6,"legendY":119}}}},{"mark":"rule","encoding":{"x":{"field":"cut","type":"quantitative","title":"samples"},"y":{"datum":0},"y2":{"datum":17.1}}},{"mark":"text","encoding":{"x":{"datum":1.55},"y":{"datum":17.8},"text":{"field":"left"}}},{"mark":"text","encoding":{"x":{"datum":15.4},"y":{"datum":17.8},"text":{"field":"right"}}},{"mark":{"type":"text","fontWeight":"bold","fontStyle":"italic"},"encoding":{"x":{"datum":15.4},"y":{"datum":13.8},"text":{"field":"dog"}}}]},
{"width":207,"height":202,"data":{"name":"info"},"transform":[{"filter":"datum.g==4"}],"layer":[{"data":{"name":"pts"},"transform":[{"filter":"datum.g==4"}],"mark":"point","encoding":{"x":{"field":"i","type":"quantitative","title":"samples","scale":{"domain":[0,30],"nice":false}},"y":{"field":"v","type":"quantitative","title":"log₂expression","scale":{"domain":[0,18],"nice":false}},"shape":{"field":"s","type":"nominal","sort":"descending","legend":{"title":null,"legendX":6,"legendY":105}}}},{"mark":"rule","encoding":{"x":{"field":"cut","type":"quantitative","title":"samples"},"y":{"datum":0},"y2":{"datum":17.1}}},{"mark":"text","encoding":{"x":{"datum":1.55},"y":{"datum":17.8},"text":{"field":"left"}}},{"mark":"text","encoding":{"x":{"datum":15.4},"y":{"datum":17.8},"text":{"field":"right"}}},{"mark":{"type":"text","fontWeight":"bold","fontStyle":"italic"},"encoding":{"x":{"datum":15.4},"y":{"datum":13.8},"text":{"field":"dog"}}}]},
{"width":207,"height":202,"data":{"name":"info"},"transform":[{"filter":"datum.g==5"}],"layer":[{"data":{"name":"pts"},"transform":[{"filter":"datum.g==5"}],"mark":"point","encoding":{"x":{"field":"i","type":"quantitative","title":"samples","scale":{"domain":[0,30],"nice":false}},"y":{"field":"v","type":"quantitative","title":"log₂expression","scale":{"domain":[0,18],"nice":false}},"shape":{"field":"s","type":"nominal","sort":"descending","legend":{"title":null,"legendX":6,"legendY":92}}}},{"mark":"rule","encoding":{"x":{"field":"cut","type":"quantitative","title":"samples"},"y":{"datum":0},"y2":{"datum":17.1}}},{"mark":"text","encoding":{"x":{"datum":1.55},"y":{"datum":17.8},"text":{"field":"left"}}},{"mark":"text","encoding":{"x":{"datum":15.4},"y":{"datum":17.8},"text":{"field":"right"}}},{"mark":{"type":"text","fontWeight":"bold","fontStyle":"italic"},"encoding":{"x":{"datum":15.4},"y":{"datum":13.8},"text":{"field":"dog"}}}]},
{"width":207,"height":202,"data":{"name":"info"},"transform":[{"filter":"datum.g==6"}],"layer":[{"data":{"name":"pts"},"transform":[{"filter":"datum.g==6"}],"mark":"point","encoding":{"x":{"field":"i","type":"quantitative","title":"samples","scale":{"domain":[0,30],"nice":false}},"y":{"field":"v","type":"quantitative","title":"log₂expression","scale":{"domain":[0,18],"nice":false}},"shape":{"field":"s","type":"nominal","sort":"descending","legend":{"title":null,"legendX":6,"legendY":97}}}},{"mark":"rule","encoding":{"x":{"field":"cut","type":"quantitative","title":"samples"},"y":{"datum":0},"y2":{"datum":17.1}}},{"mark":"text","encoding":{"x":{"datum":1.55},"y":{"datum":17.8},"text":{"field":"left"}}},{"mark":"text","encoding":{"x":{"datum":15.4},"y":{"datum":17.8},"text":{"field":"right"}}},{"mark":{"type":"text","fontWeight":"bold","fontStyle":"italic"},"encoding":{"x":{"datum":15.4},"y":{"datum":13.8},"text":{"field":"dog"}}}]},
{"width":207,"height":202,"data":{"name":"info"},"transform":[{"filter":"datum.g==7"}],"layer":[{"data":{"name":"pts"},"transform":[{"filter":"datum.g==7"}],"mark":"point","encoding":{"x":{"field":"i","type":"quantitative","title":"samples","scale":{"domain":[0,30],"nice":false}},"y":{"field":"v","type":"quantitative","title":"log₂expression","scale":{"domain":[0,18],"nice":false}},"shape":{"field":"s","type":"nominal","sort":"descending","legend":{"title":null,"legendX":6,"legendY":101}}}},{"mark":"rule","encoding":{"x":{"field":"cut","type":"quantitative","title":"samples"},"y":{"datum":0},"y2":{"datum":17.1}}},{"mark":"text","encoding":{"x":{"datum":1.55},"y":{"datum":17.8},"text":{"field":"left"}}},{"mark":"text","encoding":{"x":{"datum":15.4},"y":{"datum":17.8},"text":{"field":"right"}}},{"mark":{"type":"text","fontWeight":"bold","fontStyle":"italic"},"encoding":{"x":{"datum":15.4},"y":{"datum":13.8},"text":{"field":"dog"}}}]},
{"width":207,"height":202,"data":{"name":"info"},"transform":[{"filter":"datum.g==8"}],"layer":[{"data":{"name":"pts"},"transform":[{"filter":"datum.g==8"}],"mark":"point","encoding":{"x":{"field":"i","type":"quantitative","title":"samples","scale":{"domain":[0,30],"nice":false}},"y":{"field":"v","type":"quantitative","title":"log₂expression","scale":{"domain":[0,18],"nice":false}},"shape":{"field":"s","type":"nominal","sort":"descending","legend":{"title":null,"legendX":6,"legendY":92}}}},{"mark":"rule","encoding":{"x":{"field":"cut","type":"quantitative","title":"samples"},"y":{"datum":0},"y2":{"datum":17.1}}},{"mark":"text","encoding":{"x":{"datum":1.55},"y":{"datum":17.8},"text":{"field":"left"}}},{"mark":"text","encoding":{"x":{"datum":15.4},"y":{"datum":17.8},"text":{"field":"right"}}},{"mark":{"type":"text","fontWeight":"bold","fontStyle":"italic"},"encoding":{"x":{"datum":15.4},"y":{"datum":13.8},"text":{"field":"dog"}}}]},
{"width":207,"height":202,"data":{"name":"info"},"transform":[{"filter":"datum.g==9"}],"layer":[{"data":{"name":"pts"},"transform":[{"filter":"datum.g==9"}],"mark":"point","encoding":{"x":{"field":"i","type":"quantitative","title":"samples","scale":{"domain":[0,30],"nice":false}},"y":{"field":"v","type":"quantitative","title":"log₂expression","scale":{"domain":[0,18],"nice":false}},"shape":{"field":"s","type":"nominal","sort":"descending","legend":{"title":null,"legendX":6,"legendY":101}}}},{"mark":"rule","encoding":{"x":{"field":"cut","type":"quantitative","title":"samples"},"y":{"datum":0},"y2":{"datum":17.1}}},{"mark":"text","encoding":{"x":{"datum":1.55},"y":{"datum":17.8},"text":{"field":"left"}}},{"mark":"text","encoding":{"x":{"datum":15.4},"y":{"datum":17.8},"text":{"field":"right"}}},{"mark":{"type":"text","fontWeight":"bold","fontStyle":"italic"},"encoding":{"x":{"datum":15.4},"y":{"datum":13.8},"text":{"field":"dog"}}}]},
{"width":207,"height":202,"data":{"name":"info"},"transform":[{"filter":"datum.g==10"}],"layer":[{"data":{"name":"pts"},"transform":[{"filter":"datum.g==10"}],"mark":"point","encoding":{"x":{"field":"i","type":"quantitative","title":"samples","scale":{"domain":[0,30],"nice":false}},"y":{"field":"v","type":"quantitative","title":"log₂expression","scale":{"domain":[0,18],"nice":false}},"shape":{"field":"s","type":"nominal","sort":"descending","legend":{"title":null,"legendX":6,"legendY":91}}}},{"mark":"rule","encoding":{"x":{"field":"cut","type":"quantitative","title":"samples"},"y":{"datum":0},"y2":{"datum":17.1}}},{"mark":"text","encoding":{"x":{"datum":1.55},"y":{"datum":17.8},"text":{"field":"left"}}},{"mark":"text","encoding":{"x":{"datum":15.4},"y":{"datum":17.8},"text":{"field":"right"}}},{"mark":{"type":"text","fontWeight":"bold","fontStyle":"italic"},"encoding":{"x":{"datum":15.4},"y":{"datum":13.8},"text":{"field":"dog"}}}]},
{"width":207,"height":202,"data":{"name":"info"},"transform":[{"filter":"datum.g==11"}],"layer":[{"data":{"name":"pts"},"transform":[{"filter":"datum.g==11"}],"mark":"point","encoding":{"x":{"field":"i","type":"quantitative","title":"samples","scale":{"domain":[0,30],"nice":false}},"y":{"field":"v","type":"quantitative","title":"log₂expression","scale":{"domain":[0,18],"nice":false}},"shape":{"field":"s","type":"nominal","sort":"descending","legend":{"title":null,"legendX":6,"legendY":132}}}},{"mark":"rule","encoding":{"x":{"field":"cut","type":"quantitative","title":"samples"},"y":{"datum":0},"y2":{"datum":17.1}}},{"mark":"text","encoding":{"x":{"datum":1.55},"y":{"datum":17.8},"text":{"field":"left"}}},{"mark":"text","encoding":{"x":{"datum":15.4},"y":{"datum":17.8},"text":{"field":"right"}}},{"mark":{"type":"text","fontWeight":"bold","fontStyle":"italic"},"encoding":{"x":{"datum":15.4},"y":{"datum":13.8},"text":{"field":"dog"}}}]},
{"width":207,"height":202,"data":{"name":"info"},"transform":[{"filter":"datum.g==12"}],"layer":[{"data":{"name":"pts"},"transform":[{"filter":"datum.g==12"}],"mark":"point","encoding":{"x":{"field":"i","type":"quantitative","title":"samples","scale":{"domain":[0,30],"nice":false}},"y":{"field":"v","type":"quantitative","title":"log₂expression","scale":{"domain":[0,18],"nice":false}},"shape":{"field":"s","type":"nominal","sort":"descending","legend":{"title":null,"legendX":6,"legendY":101}}}},{"mark":"rule","encoding":{"x":{"field":"cut","type":"quantitative","title":"samples"},"y":{"datum":0},"y2":{"datum":17.1}}},{"mark":"text","encoding":{"x":{"datum":1.55},"y":{"datum":17.8},"text":{"field":"left"}}},{"mark":"text","encoding":{"x":{"datum":15.4},"y":{"datum":17.8},"text":{"field":"right"}}},{"mark":{"type":"text","fontWeight":"bold","fontStyle":"italic"},"encoding":{"x":{"datum":15.4},"y":{"datum":13.8},"text":{"field":"dog"}}}]},
{"width":207,"height":202,"data":{"name":"info"},"transform":[{"filter":"datum.g==13"}],"layer":[{"data":{"name":"pts"},"transform":[{"filter":"datum.g==13"}],"mark":"point","encoding":{"x":{"field":"i","type":"quantitative","title":"samples","scale":{"domain":[0,30],"nice":false}},"y":{"field":"v","type":"quantitative","title":"log₂expression","scale":{"domain":[0,18],"nice":false}},"shape":{"field":"s","type":"nominal","sort":"descending","legend":{"title":null,"legendX":6,"legendY":107}}}},{"mark":"rule","encoding":{"x":{"field":"cut","type":"quantitative","title":"samples"},"y":{"datum":0},"y2":{"datum":17.1}}},{"mark":"text","encoding":{"x":{"datum":1.55},"y":{"datum":17.8},"text":{"field":"left"}}},{"mark":"text","encoding":{"x":{"datum":15.4},"y":{"datum":17.8},"text":{"field":"right"}}},{"mark":{"type":"text","fontWeight":"bold","fontStyle":"italic"},"encoding":{"x":{"datum":15.4},"y":{"datum":13.8},"text":{"field":"dog"}}}]},
{"width":207,"height":202,"data":{"name":"info"},"transform":[{"filter":"datum.g==14"}],"layer":[{"data":{"name":"pts"},"transform":[{"filter":"datum.g==14"}],"mark":"point","encoding":{"x":{"field":"i","type":"quantitative","title":"samples","scale":{"domain":[0,30],"nice":false}},"y":{"field":"v","type":"quantitative","title":"log₂expression","scale":{"domain":[0,18],"nice":false}},"shape":{"field":"s","type":"nominal","sort":"descending","legend":{"title":null,"legendX":6,"legendY":113}}}},{"mark":"rule","encoding":{"x":{"field":"cut","type":"quantitative","title":"samples"},"y":{"datum":0},"y2":{"datum":17.1}}},{"mark":"text","encoding":{"x":{"datum":1.55},"y":{"datum":17.8},"text":{"field":"left"}}},{"mark":"text","encoding":{"x":{"datum":15.4},"y":{"datum":17.8},"text":{"field":"right"}}},{"mark":{"type":"text","fontWeight":"bold","fontStyle":"italic"},"encoding":{"x":{"datum":15.4},"y":{"datum":13.8},"text":{"field":"dog"}}}]},
{"width":207,"height":202,"data":{"name":"info"},"transform":[{"filter":"datum.g==15"}],"layer":[{"data":{"name":"pts"},"transform":[{"filter":"datum.g==15"}],"mark":"point","encoding":{"x":{"field":"i","type":"quantitative","title":"samples","scale":{"domain":[0,30],"nice":false}},"y":{"field":"v","type":"quantitative","title":"log₂expression","scale":{"domain":[0,18],"nice":false}},"shape":{"field":"s","type":"nominal","sort":"descending","legend":{"title":null,"legendX":6,"legendY":95}}}},{"mark":"rule","encoding":{"x":{"field":"cut","type":"quantitative","title":"samples"},"y":{"datum":0},"y2":{"datum":17.1}}},{"mark":"text","encoding":{"x":{"datum":1.55},"y":{"datum":17.8},"text":{"field":"left"}}},{"mark":"text","encoding":{"x":{"datum":15.4},"y":{"datum":17.8},"text":{"field":"right"}}},{"mark":{"type":"text","fontWeight":"bold","fontStyle":"italic"},"encoding":{"x":{"datum":15.4},"y":{"datum":13.8},"text":{"field":"dog"}}}]},
{"width":207,"height":202,"data":{"name":"info"},"transform":[{"filter":"datum.g==16"}],"layer":[{"data":{"name":"pts"},"transform":[{"filter":"datum.g==16"}],"mark":"point","encoding":{"x":{"field":"i","type":"quantitative","title":"samples","scale":{"domain":[0,30],"nice":false}},"y":{"field":"v","type":"quantitative","title":"log₂expression","scale":{"domain":[0,18],"nice":false}},"shape":{"field":"s","type":"nominal","sort":"descending","legend":{"title":null,"legendX":6,"legendY":92}}}},{"mark":"rule","encoding":{"x":{"field":"cut","type":"quantitative","title":"samples"},"y":{"datum":0},"y2":{"datum":17.1}}},{"mark":"text","encoding":{"x":{"datum":1.55},"y":{"datum":17.8},"text":{"field":"left"}}},{"mark":"text","encoding":{"x":{"datum":15.4},"y":{"datum":17.8},"text":{"field":"right"}}},{"mark":{"type":"text","fontWeight":"bold","fontStyle":"italic"},"encoding":{"x":{"datum":15.4},"y":{"datum":13.8},"text":{"field":"dog"}}}]},
{"width":207,"height":202,"data":{"name":"info"},"transform":[{"filter":"datum.g==17"}],"layer":[{"data":{"name":"pts"},"transform":[{"filter":"datum.g==17"}],"mark":"point","encoding":{"x":{"field":"i","type":"quantitative","title":"samples","scale":{"domain":[0,30],"nice":false}},"y":{"field":"v","type":"quantitative","title":"log₂expression","scale":{"domain":[0,18],"nice":false}},"shape":{"field":"s","type":"nominal","sort":"descending","legend":{"title":null,"legendX":6,"legendY":124}}}},{"mark":"rule","encoding":{"x":{"field":"cut","type":"quantitative","title":"samples"},"y":{"datum":0},"y2":{"datum":17.1}}},{"mark":"text","encoding":{"x":{"datum":1.55},"y":{"datum":17.8},"text":{"field":"left"}}},{"mark":"text","encoding":{"x":{"datum":15.4},"y":{"datum":17.8},"text":{"field":"right"}}},{"mark":{"type":"text","fontWeight":"bold","fontStyle":"italic"},"encoding":{"x":{"datum":15.4},"y":{"datum":13.8},"text":{"field":"dog"}}}]},
{"width":207,"height":202,"data":{"name":"info"},"transform":[{"filter":"datum.g==18"}],"layer":[{"data":{"name":"pts"},"transform":[{"filter":"datum.g==18"}],"mark":"point","encoding":{"x":{"field":"i","type":"quantitative","title":"samples","scale":{"domain":[0,30],"nice":false}},"y":{"field":"v","type":"quantitative","title":"log₂expression","scale":{"domain":[0,18],"nice":false}},"shape":{"field":"s","type":"nominal","sort":"descending","legend":{"title":null,"legendX":6,"legendY":86}}}},{"mark":"rule","encoding":{"x":{"field":"cut","type":"quantitative","title":"samples"},"y":{"datum":0},"y2":{"datum":17.1}}},{"mark":"text","encoding":{"x":{"datum":1.55},"y":{"datum":17.8},"text":{"field":"left"}}},{"mark":"text","encoding":{"x":{"datum":15.4},"y":{"datum":17.8},"text":{"field":"right"}}},{"mark":{"type":"text","fontWeight":"bold","fontStyle":"italic"},"encoding":{"x":{"datum":15.4},"y":{"datum":13.8},"text":{"field":"dog"}}}]},
{"width":207,"height":202,"data":{"name":"info"},"transform":[{"filter":"datum.g==19"}],"layer":[{"data":{"name":"pts"},"transform":[{"filter":"datum.g==19"}],"mark":"point","encoding":{"x":{"field":"i","type":"quantitative","title":"samples","scale":{"domain":[0,30],"nice":false}},"y":{"field":"v","type":"quantitative","title":"log₂expression","scale":{"domain":[0,18],"nice":false}},"shape":{"field":"s","type":"nominal","sort":"descending","legend":{"title":null,"legendX":6,"legendY":72}}}},{"mark":"rule","encoding":{"x":{"field":"cut","type":"quantitative","title":"samples"},"y":{"datum":0},"y2":{"datum":17.1}}},{"mark":"text","encoding":{"x":{"datum":1.55},"y":{"datum":17.8},"text":{"field":"left"}}},{"mark":"text","encoding":{"x":{"datum":15.4},"y":{"datum":17.8},"text":{"field":"right"}}},{"mark":{"type":"text","fontWeight":"bold","fontStyle":"italic"},"encoding":{"x":{"datum":15.4},"y":{"datum":13.8},"text":{"field":"dog"}}}]},
{"width":207,"height":202,"data":{"name":"info"},"transform":[{"filter":"datum.g==20"}],"layer":[{"data":{"name":"pts"},"transform":[{"filter":"datum.g==20"}],"mark":"point","encoding":{"x":{"field":"i","type":"quantitative","title":"samples","scale":{"domain":[0,30],"nice":false}},"y":{"field":"v","type":"quantitative","title":"log₂expression","scale":{"domain":[0,18],"nice":false}},"shape":{"field":"s","type":"nominal","sort":"descending","legend":{"title":null,"legendX":6,"legendY":104}}}},{"mark":"rule","encoding":{"x":{"field":"cut","type":"quantitative","title":"samples"},"y":{"datum":0},"y2":{"datum":17.1}}},{"mark":"text","encoding":{"x":{"datum":1.55},"y":{"datum":17.8},"text":{"field":"left"}}},{"mark":"text","encoding":{"x":{"datum":15.4},"y":{"datum":17.8},"text":{"field":"right"}}},{"mark":{"type":"text","fontWeight":"bold","fontStyle":"italic"},"encoding":{"x":{"datum":15.4},"y":{"datum":13.8},"text":{"field":"dog"}}}]},
{"width":207,"height":202,"data":{"name":"info"},"transform":[{"filter":"datum.g==21"}],"title":{"text":"Figure 5 DOG.","fontWeight":"bold","fontSize":16,"dx":-47},"layer":[{"data":{"name":"pts"},"transform":[{"filter":"datum.g==21"}],"mark":"point","encoding":{"x":{"field":"i","type":"quantitative","title":"samples","scale":{"domain":[0,30],"nice":false}},"y":{"field":"v","type":"quantitative","title":"log₂expression","scale":{"domain":[0,18],"nice":false}},"shape":{"field":"s","type":"nominal","sort":"descending","legend":{"title":null,"legendX":6,"legendY":105}}}},{"mark":"rule","encoding":{"x":{"field":"cut","type":"quantitative","title":"samples"},"y":{"datum":0},"y2":{"datum":17.1}}},{"mark":"text","encoding":{"x":{"datum":1.55},"y":{"datum":17.8},"text":{"field":"left"}}},{"mark":"text","encoding":{"x":{"datum":15.4},"y":{"datum":17.8},"text":{"field":"right"}}},{"mark":{"type":"text","fontWeight":"bold","fontStyle":"italic"},"encoding":{"x":{"datum":15.4},"y":{"datum":13.8},"text":{"field":"dog"}}}]},
{"width":207,"height":202,"data":{"name":"info"},"transform":[{"filter":"datum.g==22"}],"title":{"text":"Breast cancer data: log₂ expressions of the top 25 hDEGs detected using DOG.","fontWeight":"normal","fontSize":19,"dx":-182,"dy":-2,"limit":900},"layer":[{"data":{"name":"pts"},"transform":[{"filter":"datum.g==22"}],"mark":"point","encoding":{"x":{"field":"i","type":"quantitative","title":"samples","scale":{"domain":[0,30],"nice":false}},"y":{"field":"v","type":"quantitative","title":"log₂expression","scale":{"domain":[0,18],"nice":false}},"shape":{"field":"s","type":"nominal","sort":"descending","legend":{"title":null,"legendX":6,"legendY":106}}}},{"mark":"rule","encoding":{"x":{"field":"cut","type":"quantitative","title":"samples"},"y":{"datum":0},"y2":{"datum":17.1}}},{"mark":"text","encoding":{"x":{"datum":1.55},"y":{"datum":17.8},"text":{"field":"left"}}},{"mark":"text","encoding":{"x":{"datum":15.4},"y":{"datum":17.8},"text":{"field":"right"}}},{"mark":{"type":"text","fontWeight":"bold","fontStyle":"italic"},"encoding":{"x":{"datum":15.4},"y":{"datum":13.8},"text":{"field":"dog"}}}]},
{"width":207,"height":202,"data":{"name":"info"},"transform":[{"filter":"datum.g==23"}],"layer":[{"data":{"name":"pts"},"transform":[{"filter":"datum.g==23"}],"mark":"point","encoding":{"x":{"field":"i","type":"quantitative","title":"samples","scale":{"domain":[0,30],"nice":false}},"y":{"field":"v","type":"quantitative","title":"log₂expression","scale":{"domain":[0,18],"nice":false}},"shape":{"field":"s","type":"nominal","sort":"descending","legend":{"title":null,"legendX":6,"legendY":105}}}},{"mark":"rule","encoding":{"x":{"field":"cut","type":"quantitative","title":"samples"},"y":{"datum":0},"y2":{"datum":17.1}}},{"mark":"text","encoding":{"x":{"datum":1.55},"y":{"datum":17.8},"text":{"field":"left"}}},{"mark":"text","encoding":{"x":{"datum":15.4},"y":{"datum":17.8},"text":{"field":"right"}}},{"mark":{"type":"text","fontWeight":"bold","fontStyle":"italic"},"encoding":{"x":{"datum":15.4},"y":{"datum":13.8},"text":{"field":"dog"}}}]},
{"width":207,"height":202,"data":{"name":"info"},"transform":[{"filter":"datum.g==24"}],"layer":[{"data":{"name":"pts"},"transform":[{"filter":"datum.g==24"}],"mark":"point","encoding":{"x":{"field":"i","type":"quantitative","title":"samples","scale":{"domain":[0,30],"nice":false}},"y":{"field":"v","type":"quantitative","title":"log₂expression","scale":{"domain":[0,18],"nice":false}},"shape":{"field":"s","type":"nominal","sort":"descending","legend":{"title":null,"legendX":6,"legendY":97}}}},{"mark":"rule","encoding":{"x":{"field":"cut","type":"quantitative","title":"samples"},"y":{"datum":0},"y2":{"datum":17.1}}},{"mark":"text","encoding":{"x":{"datum":1.55},"y":{"datum":17.8},"text":{"field":"left"}}},{"mark":"text","encoding":{"x":{"datum":15.4},"y":{"datum":17.8},"text":{"field":"right"}}},{"mark":{"type":"text","fontWeight":"bold","fontStyle":"italic"},"encoding":{"x":{"datum":15.4},"y":{"datum":13.8},"text":{"field":"dog"}}}]},
{"width":207,"height":202,"data":{"name":"info"},"transform":[{"filter":"datum.g==25"}],"layer":[{"data":{"name":"pts"},"transform":[{"filter":"datum.g==25"}],"mark":"point","encoding":{"x":{"field":"i","type":"quantitative","title":"samples","scale":{"domain":[0,30],"nice":false}},"y":{"field":"v","type":"quantitative","title":"log₂expression","scale":{"domain":[0,18],"nice":false}},"shape":{"field":"s","type":"nominal","sort":"descending","legend":{"title":null,"legendX":6,"legendY":111}}}},{"mark":"rule","encoding":{"x":{"field":"cut","type":"quantitative","title":"samples"},"y":{"datum":0},"y2":{"datum":17.1}}},{"mark":"text","encoding":{"x":{"datum":1.55},"y":{"datum":17.8},"text":{"field":"left"}}},{"mark":"text","encoding":{"x":{"datum":15.4},"y":{"datum":17.8},"text":{"field":"right"}}},{"mark":{"type":"text","fontWeight":"bold","fontStyle":"italic"},"encoding":{"x":{"datum":15.4},"y":{"datum":13.8},"text":{"field":"dog"}}}]}
],
"config": {
"font": "Liberation Sans",
"view": {"stroke": "#9a9a9a", "strokeWidth": 1},
"axis": {"domain": false, "grid": false, "tickColor": "#9a9a9a", "tickSize": 2, "labelFont": "Liberation Sans", "labelFontSize": 14, "labelColor": "#333333", "titleFont": "Liberation Sans", "titleFontSize": 14.5, "titleFontWeight": "normal", "titleColor": "#333333", "labelFlush": false, "labelOverlap": false, "labelPadding": 5, "labelBaseline": "middle"},
"axisX": {"labelAngle": 0, "titleY": 19, "titleBaseline": "middle", "tickCount": 6},
"axisY": {"labelAngle": -90, "labelAlign": "center", "titleX": -24, "titleBaseline": "middle", "titleAngle": -90, "tickCount": 4},
"legend": {"orient": "none", "strokeColor": "#8a8a8a", "padding": 9, "labelFont": "Liberation Sans", "labelFontSize": 14.5, "labelColor": "#333333", "symbolSize": 55, "labelOffset": 6, "rowPadding": 3, "symbolStrokeWidth": 0},
"point": {"filled": true, "size": 55, "color": "#1a1a1a", "opacity": 1},
"rule": {"color": "#777777", "strokeDash": [3, 3], "strokeWidth": 1},
"text": {"font": "Liberation Sans", "fontSize": 14.5, "color": "#333333", "align": "left", "baseline": "top", "lineHeight": 15},
"range": {"symbol": ["M-1,-0.82L-0.82,-1L0,-0.18L0.82,-1L1,-0.82L0.18,0L1,0.82L0.82,1L0,0.18L-0.82,1L-1,0.82L-0.18,0Z", "circle"]},
"title": {"orient": "bottom", "anchor": "start", "frame": "group", "font": "Open Sans", "fontSize": 16, "color": "#1a1a1a", "offset": 18}
}
}
